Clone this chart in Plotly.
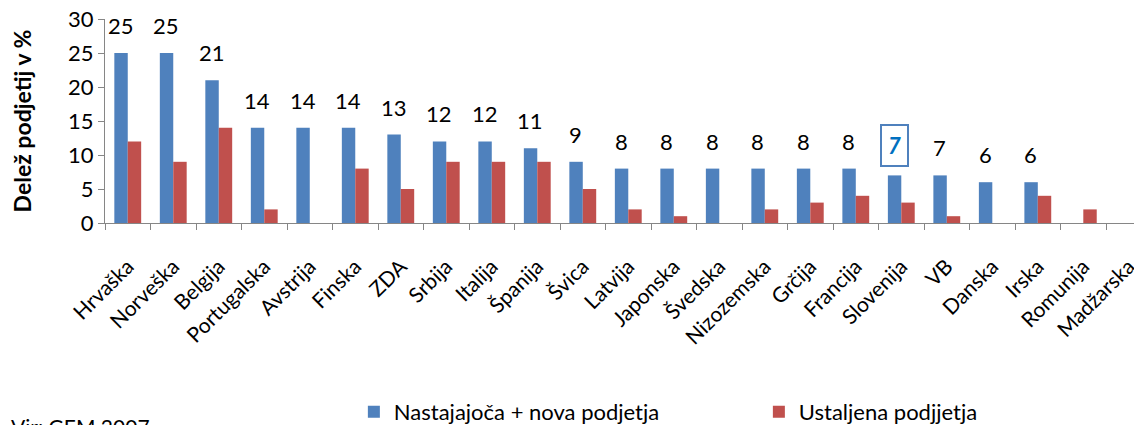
import plotly.graph_objects as go

categories = ["Hrvaška", "Norveška", "Belgija", "Portugalska", "Avstrija", "Finska", "ZDA",
              "Srbija", "Italija", "Španija", "Švica", "Latvija", "Japonska", "Švedska",
              "Nizozemska", "Grčija", "Francija", "Slovenija", "VB", "Danska", "Irska",
              "Romunija", "Madžarska"]
nova = [25, 25, 21, 14, 14, 14, 13, 12, 12, 11, 9, 8, 8, 8, 8, 8, 8, 7, 7, 6, 6, None, None]
ustaljena = [12, 9, 14, 2, 0, 8, 5, 9, 9, 9, 5, 2, 1, 0, 2, 3, 4, 3, 1, 0, 4, 2, 0]
highlight = "Slovenija"

FONT = "Lato"
BLUE = "#4f81bd"
RED = "#c0504d"

fig = go.Figure()
fig.add_trace(go.Bar(x=categories, y=nova, name="Nastajajoča + nova podjetja",
                     marker=dict(color=BLUE, line=dict(width=0))))
fig.add_trace(go.Bar(x=categories, y=ustaljena, name="Ustaljena podjjetja",
                     marker=dict(color=RED, line=dict(width=0))))

for c, v in zip(categories, nova):
    if v is None:
        continue
    if c == highlight:
        fig.add_annotation(x=c, y=v, text="<b><i>%d</i></b>" % v, showarrow=False,
                           yanchor="bottom", yshift=8, xshift=-7,
                           font=dict(family=FONT, size=22, color="#0070c0"),
                           bordercolor=BLUE, borderwidth=2, borderpad=6, bgcolor="white")
    else:
        fig.add_annotation(x=c, y=v, text=str(v), showarrow=False,
                           yanchor="bottom", yshift=12, xshift=-7,
                           font=dict(family=FONT, size=22, color="#000000"))

fig.add_annotation(xref="paper", yref="paper", x=-0.093, y=-0.925, xanchor="left", yanchor="top",
                   text="Vir: GEM 2007", showarrow=False,
                   font=dict(family=FONT, size=21, color="#000000"))

fig.update_layout(
    width=1134, height=417,
    margin=dict(l=97, r=0, t=11, b=202, autoexpand=False),
    paper_bgcolor="white", plot_bgcolor="white",
    barmode="group", bargap=0.41, bargroupgap=0,
    font=dict(family=FONT, size=20, color="#000000"),
    showlegend=True,
    legend=dict(orientation="h", xref="container", yref="container",
                x=0.305, xanchor="left", y=0.031, yanchor="middle",
                font=dict(family=FONT, size=22), entrywidth=360, itemwidth=30,
                bgcolor="rgba(0,0,0,0)"),
    xaxis=dict(range=[-0.5, 22.29], showline=True, linecolor="#868686", linewidth=1,
               ticks="outside", tickson="boundaries", ticklen=6, tickcolor="#868686",
               tickangle=-45, tickfont=dict(family=FONT, size=21), showgrid=False,
               ticklabelstandoff=22),
    yaxis=dict(range=[0, 30], dtick=5, showline=True, linecolor="#868686", linewidth=1,
               ticks="outside", ticklen=6, tickcolor="#868686", showgrid=False, zeroline=False,
               tickfont=dict(family=FONT, size=22), ticklabeloverflow="allow",
               title=dict(text="<b>Delež podjetij v %</b>", standoff=38,
                          font=dict(family=FONT, size=23))),
)

fig.write_html("out.html")
